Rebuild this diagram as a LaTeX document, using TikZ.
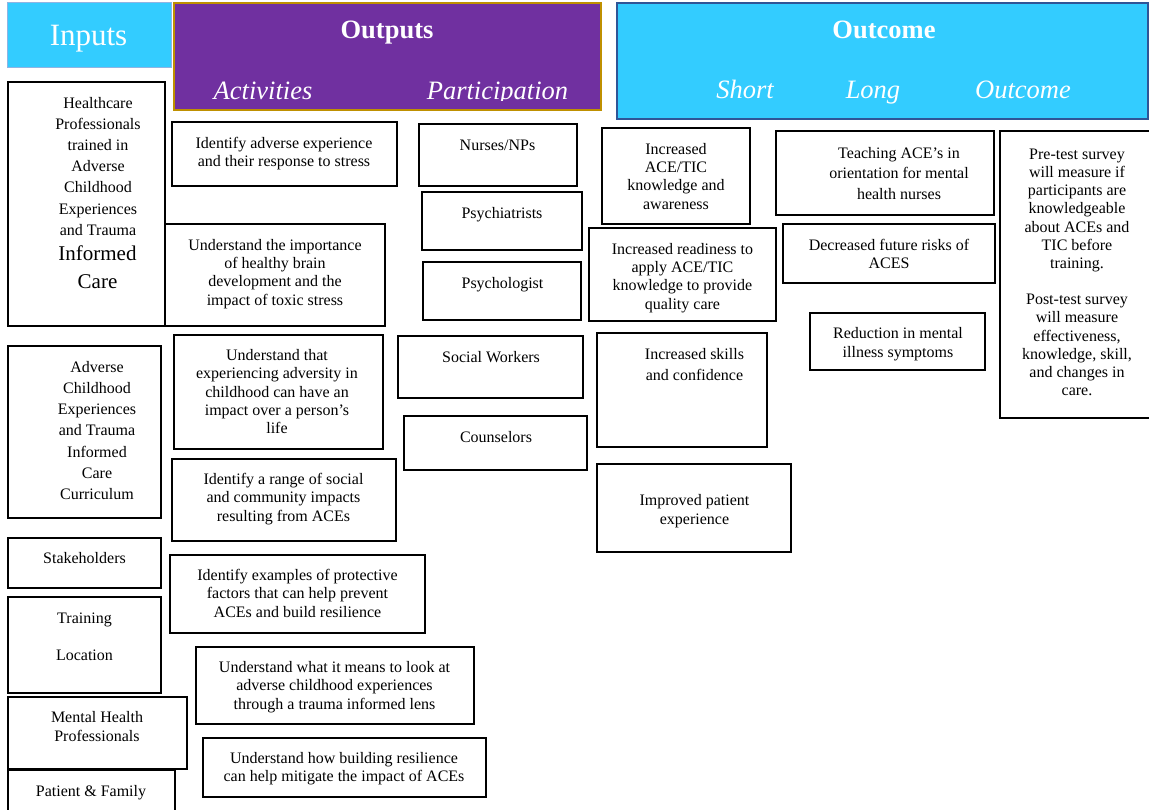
\documentclass[tikz,border=0pt]{standalone}
\usepackage{fontspec}
\setmainfont{Liberation Serif}
\usetikzlibrary{fit}
\definecolor{hcyan}{HTML}{33CCFF}
\definecolor{hpurple}{HTML}{7030A0}
\definecolor{hgold}{HTML}{BF9000}
\definecolor{hblue}{HTML}{2F5597}
\definecolor{hlight}{HTML}{8FB4E3}
\newcommand{\myst}{\rule{0pt}{12pt}}
\newcommand{\mystb}{\rule{0pt}{16pt}}
\begin{document}
\begin{tikzpicture}[x=1pt,y=-1pt,
  box/.style={draw=black, line width=1.6pt, inner sep=0pt, fill=white},
  txt/.style={anchor=north, inner sep=0pt, align=center, font=\fontsize{16}{18.4}\selectfont},
  head/.style={anchor=base, inner sep=0pt, text=white},
  hb/.style={head, font=\fontsize{26.5}{30}\selectfont\bfseries},
  hi/.style={head, font=\fontsize{26.5}{30}\selectfont\itshape},
]
\useasboundingbox (0,0) rectangle (1149,810);
\fill[white] (0,0) rectangle (1149,810);

% headers
\node[fill=hcyan, draw=hlight, line width=1pt, inner sep=0pt, fit={(7,3) (171,68)}] (hin) {};
\node[head, font=\fontsize{31}{34}\selectfont] (hint) at (88.5,46) {Inputs};
\node[fill=hpurple, draw=hgold, line width=2pt, inner sep=0pt, fit={(174,3) (601,110)}] (hout) {};
\node[hb] (houtt) at (387,39) {Outputs};
\begin{scope}
  \clip (174,3) rectangle (601,101);
  \node[hi] (hact) at (263,100) {Activities};
  \node[hi] (hpar) at (497.5,100) {Participation};
\end{scope}
\node[fill=hcyan, draw=hblue, line width=2.5pt, inner sep=0pt, fit={(617,3) (1148,119)}] (hoc) {};
\node[hb] (hoct) at (884,39) {Outcome};
\node[hi] (hsh) at (745,99) {Short};
\node[hi] (hlo) at (873,99) {Long};
\node[hi] (hou) at (1023,99) {Outcome};

% inputs
\node[box, fit={(8,82) (165,326)}] (hc) {};
\node[txt, font=\fontsize{16}{21.2}\selectfont] (hct) at (98,96) {\myst Healthcare\\Professionals\\trained in\\Adverse\\Childhood\\Experiences\\and Trauma};
\node[txt, font=\fontsize{21}{28}\selectfont] (hct2) at (97.5,244) {\mystb Informed\\Care};
\node[box, fit={(8,346) (161,518)}] (ad) {};
\node[txt, font=\fontsize{16}{21.2}\selectfont] (adt) at (97,360) {\myst Adverse\\Childhood\\Experiences\\and Trauma\\Informed\\Care\\Curriculum};
\node[box, fit={(8,538) (161,588)}] (st) {};
\node[txt] (stt) at (84.5,551) {\myst Stakeholders};
\node[box, fit={(8,597) (161,693)}] (tr) {};
\node[txt] (trt) at (84.5,611) {\myst Training\\[18.5pt]Location};
\node[box, fit={(8,697) (187,769)}] (mh) {};
\node[txt, font=\fontsize{16}{19}\selectfont] (mht) at (97,710) {\myst Mental Health\\Professionals};
\node[box, fit={(8,770) (175,814)}] (pf) {};
\node[txt] (pft) at (91,784) {\myst Patient \& Family};

% activities
\node[box, fit={(172,122) (397,186)}] (a1) {};
\node[txt] (a1t) at (284,136) {\myst Identify adverse experience\\and their response to stress};
\node[box, fit={(165,224) (385,326)}] (a2) {};
\node[txt] (a2t) at (275,238) {\myst Understand the importance\\of healthy brain\\development and the\\impact of toxic stress};
\node[box, fit={(174,335) (383,449)}] (a3) {};
\node[txt] (a3t) at (277,348) {\myst Understand that\\experiencing adversity in\\childhood can have an\\impact over a person’s\\life};
\node[box, fit={(172,459) (396,541)}] (a4) {};
\node[txt] (a4t) at (283.5,472) {\myst Identify a range of social\\and community impacts\\resulting from ACEs};
\node[box, fit={(170,555) (425,633)}] (a5) {};
\node[txt] (a5t) at (297.5,568) {\myst Identify examples of protective\\factors that can help prevent\\ACEs and build resilience};
\node[box, fit={(196,647) (474,724)}] (a6) {};
\node[txt] (a6t) at (334.5,660) {\myst Understand what it means to look at\\adverse childhood experiences\\through a trauma informed lens};
\node[box, fit={(203,738) (486,797)}] (a7) {};
\node[txt] (a7t) at (344,751) {\myst Understand how building resilience\\can help mitigate the impact of ACEs};

% participation
\node[box, fit={(419,124) (577,186)}] (p1) {};
\node[txt] (p1t) at (497.5,138) {\myst Nurses/NPs};
\node[box, fit={(422,192) (582,250)}] (p2) {};
\node[txt] (p2t) at (502,206) {\myst Psychiatrists};
\node[box, fit={(423,262) (581,320)}] (p3) {};
\node[txt] (p3t) at (502.5,276) {\myst Psychologist};
\node[box, fit={(398,336) (583,398)}] (p4) {};
\node[txt] (p4t) at (491,350) {\myst Social Workers};
\node[box, fit={(404,416) (587,470)}] (p5) {};
\node[txt] (p5t) at (496,430) {\myst Counselors};

% short
\node[box, fit={(602,128) (750,224)}] (s1) {};
\node[txt] (s1t) at (676,142) {\myst Increased\\ACE/TIC\\knowledge and\\awareness};
\node[box, fit={(589,228) (776,321)}] (s2) {};
\node[txt] (s2t) at (682.5,242) {\myst Increased readiness to\\apply ACE/TIC\\knowledge to provide\\quality care};
\node[box, fit={(597,333) (767,447)}] (s3) {};
\node[txt, font=\fontsize{16}{21}\selectfont] (s3t) at (694.5,347) {\myst Increased skills\\and confidence};
\node[box, fit={(597,464) (791,552)}] (s4) {};
\node[txt, font=\fontsize{16}{19}\selectfont] (s4t) at (694.5,493) {\myst Improved patient\\experience};

% long
\node[box, fit={(776,131) (994,215)}] (l1) {};
\node[txt, font=\fontsize{16}{20.5}\selectfont] (l1t) at (899,146) {\myst Teaching ACE’s in\\orientation for mental\\health nurses};
\node[box, fit={(783,224) (995,283)}] (l2) {};
\node[txt] (l2t) at (889,238) {\myst Decreased future risks of\\ACES};
\node[box, fit={(810,313) (985,370)}] (l3) {};
\node[txt, font=\fontsize{16}{19}\selectfont] (l3t) at (898,326) {\myst Reduction in mental\\illness symptoms};

% outcome
\node[box, fit={(1000,131) (1156,418)}] (o1) {};
\node[txt, font=\fontsize{16}{18.2}\selectfont] (o1t) at (1077,147) {\myst Pre-test survey\\will measure if\\participants are\\knowledgeable\\about ACEs and\\TIC before\\training.\\[18.2pt]Post-test survey\\will measure\\effectiveness,\\knowledge, skill,\\and changes in\\care.};
\end{tikzpicture}
\end{document}
